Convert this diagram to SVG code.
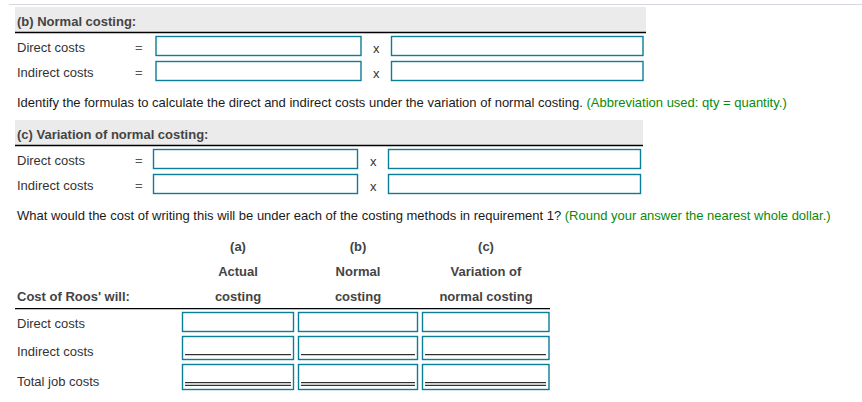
<svg xmlns="http://www.w3.org/2000/svg" width="862" height="402" viewBox="0 0 862 402">
<style>
text{font-family:"Liberation Sans",Arial,sans-serif;font-size:13px;fill:#333}
.b{font-weight:bold;fill:#444}
.q{fill:#1a1a1a}
.g{fill:#0a8a0a}
.eq{fill:#555}
.c{text-anchor:middle}
.hdr{fill:#ebebeb}
.rule{stroke:#000;stroke-width:1.3}
.box{fill:#fff;stroke:#0a7d98;stroke-width:1.4}
.ul{stroke:#000;stroke-width:1}
</style>
<rect width="862" height="402" fill="#fff"/>
<line x1="9" y1="4.5" x2="862" y2="4.5" stroke="#d3d8e2" stroke-width="1.2"/>

<g id="section-b">
<rect class="hdr" x="15" y="7" width="631" height="25"/>
<line class="rule" x1="15" y1="32.5" x2="646" y2="32.5"/>
<text class="b" x="17" y="26">(b) Normal costing:</text>
<text x="17" y="52">Direct costs</text>
<text class="eq" x="135" y="52">=</text>
<rect class="box" x="156" y="36.5" width="205" height="19"/>
<text x="373" y="53">x</text>
<rect class="box" x="391.5" y="36.5" width="251.5" height="19"/>
<text x="17" y="77">Indirect costs</text>
<text class="eq" x="135" y="77">=</text>
<rect class="box" x="156" y="61.5" width="205" height="19"/>
<text x="373" y="78">x</text>
<rect class="box" x="391.5" y="61.5" width="251.5" height="19"/>
</g>

<g id="instruction-1">
<text class="q" x="17" y="107">Identify the formulas to calculate the direct and indirect costs under the variation of normal costing. <tspan class="g">(Abbreviation used: qty = quantity.)</tspan></text>
</g>

<g id="section-c">
<rect class="hdr" x="15" y="120" width="628" height="25"/>
<line class="rule" x1="15" y1="145.5" x2="643" y2="145.5"/>
<text class="b" x="17" y="139">(c) Variation of normal costing:</text>
<text x="17" y="165">Direct costs</text>
<text class="eq" x="135" y="165">=</text>
<rect class="box" x="153.5" y="149.5" width="204" height="19"/>
<text x="370" y="166">x</text>
<rect class="box" x="388.5" y="149.5" width="252" height="19"/>
<text x="17" y="190">Indirect costs</text>
<text class="eq" x="135" y="190">=</text>
<rect class="box" x="153.5" y="174.5" width="204" height="19"/>
<text x="370" y="191">x</text>
<rect class="box" x="388.5" y="174.5" width="252" height="19"/>
</g>

<g id="instruction-2">
<text class="q" x="17" y="220">What would the cost of writing this will be under each of the costing methods in requirement 1? <tspan class="g">(Round your answer the nearest whole dollar.)</tspan></text>
</g>

<g id="cost-table">
<text class="b c" x="238" y="251">(a)</text>
<text class="b c" x="358" y="251">(b)</text>
<text class="b c" x="486" y="251">(c)</text>
<text class="b c" x="238" y="276">Actual</text>
<text class="b c" x="358" y="276">Normal</text>
<text class="b c" x="486" y="276">Variation of</text>
<text class="b" x="17" y="301">Cost of Roos' will:</text>
<text class="b c" x="238" y="301">costing</text>
<text class="b c" x="358" y="301">costing</text>
<text class="b c" x="486" y="301">normal costing</text>
<line class="rule" x1="15" y1="308.7" x2="550" y2="308.7"/>

<text x="17" y="328">Direct costs</text>
<text x="17" y="356">Indirect costs</text>
<text x="17" y="386">Total job costs</text>

<rect class="box" x="182.5" y="312.5" width="111" height="19"/>
<rect class="box" x="298.5" y="312.5" width="119" height="19"/>
<rect class="box" x="422.5" y="312.5" width="126.5" height="19"/>

<rect class="box" x="182.5" y="336.5" width="111" height="23"/>
<rect class="box" x="298.5" y="336.5" width="119" height="23"/>
<rect class="box" x="422.5" y="336.5" width="126.5" height="23"/>
<line class="ul" x1="185" y1="354.7" x2="291" y2="354.7"/>
<line class="ul" x1="301" y1="354.7" x2="415" y2="354.7"/>
<line class="ul" x1="425" y1="354.7" x2="546" y2="354.7"/>

<rect class="box" x="182.5" y="364.5" width="111" height="25"/>
<rect class="box" x="298.5" y="364.5" width="119" height="25"/>
<rect class="box" x="422.5" y="364.5" width="126.5" height="25"/>
<line class="ul" x1="185" y1="382.7" x2="291" y2="382.7"/>
<line class="ul" x1="185" y1="385.3" x2="291" y2="385.3"/>
<line class="ul" x1="301" y1="382.7" x2="415" y2="382.7"/>
<line class="ul" x1="301" y1="385.3" x2="415" y2="385.3"/>
<line class="ul" x1="425" y1="382.7" x2="546" y2="382.7"/>
<line class="ul" x1="425" y1="385.3" x2="546" y2="385.3"/>
</g>
</svg>
